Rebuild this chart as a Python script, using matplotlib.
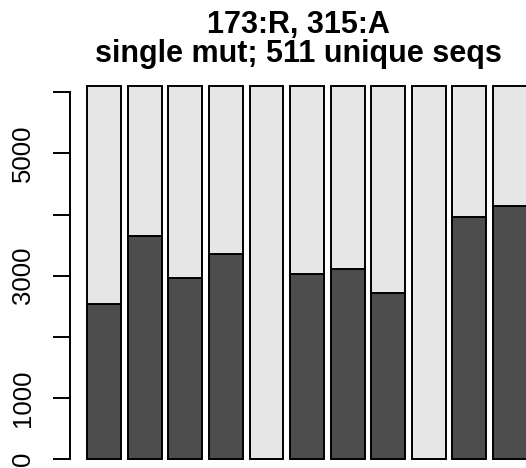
import matplotlib
matplotlib.use("Agg")
import matplotlib.pyplot as plt
import numpy as np

plt.rcParams['font.family'] = ['Liberation Sans', 'DejaVu Sans']

dark_vals = [2533, 3654, 2967, 3360, 0, 3028, 3114, 2712, 0, 3954, 4134]
total = 6100
light_vals = [total - d for d in dark_vals]
yticks = [0, 1000, 2000, 3000, 4000, 5000, 6000]
ytick_labels = ['0', '1000', '', '3000', '', '5000', '']
title_lines = ["173:R, 315:A", "single mut; 511 unique seqs"]

W, H = 526, 468
fig = plt.figure(figsize=(W / 100, H / 100), dpi=100)
ax_left, ax_right = 70, 526
ax_bottom, ax_top = 468, 80
ax = fig.add_axes([ax_left / W, 1 - ax_bottom / H, (ax_right - ax_left) / W, (ax_bottom - ax_top) / H])

n = len(dark_vals)
lefts = 0.2 + 1.2 * np.arange(n)
centers = lefts + 0.5
ax.bar(centers, dark_vals, width=1.0, color='#4d4d4d', edgecolor='black', linewidth=1.4)
ax.bar(centers, light_vals, width=1.0, bottom=dark_vals, color='#e6e6e6', edgecolor='black', linewidth=1.4)

px_per_unit = 40.57 / 1.2
x0 = 0.2 - (87.3 - ax_left) / px_per_unit
x1 = 0.2 + (ax_right - 87.3) / px_per_unit
ax.set_xlim(x0, x1)
px_per_k = 61.2
ax.set_ylim(-(ax_bottom - 459.3) / px_per_k * 1000, (459.3 - ax_top) / px_per_k * 1000)

for s in ['top', 'right', 'bottom']:
    ax.spines[s].set_visible(False)
ax.spines['left'].set_bounds(0, 6000)
ax.spines['left'].set_linewidth(1.4)
ax.set_xticks([])
ax.set_yticks(yticks)
ax.set_yticklabels(ytick_labels, rotation=90, va='center', fontsize=18.5)
ax.tick_params(axis='y', length=12.3, width=1.4, pad=13)

for line, base in zip(title_lines, [33, 62]):
    fig.text(298 / W, 1 - base / H, line, ha='center', va='baseline', fontsize=22,
             fontweight='bold')

fig.savefig('out.png', dpi=100)
